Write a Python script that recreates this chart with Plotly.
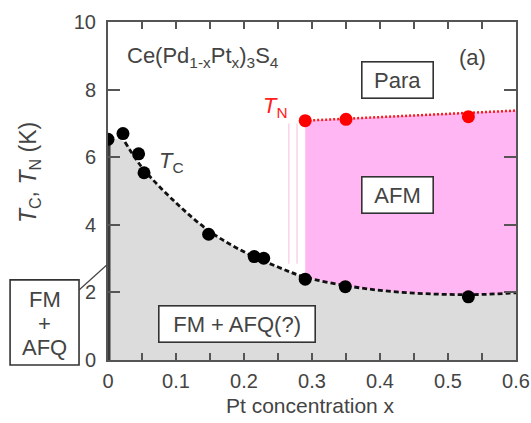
import plotly.graph_objects as go

# Tc data (black)
tc_x = [0.0, 0.022, 0.045, 0.053, 0.148, 0.215, 0.229, 0.29, 0.349, 0.53]
tc_y = [6.53, 6.70, 6.10, 5.54, 3.72, 3.06, 3.01, 2.39, 2.17, 1.87]
# TN data (red)
tn_x = [0.29, 0.35, 0.53]
tn_y = [7.08, 7.12, 7.20]
# guide curves
tc_curve_x = [0.0, 0.025, 0.05, 0.1, 0.15, 0.2, 0.25, 0.29, 0.35, 0.4, 0.45, 0.5, 0.55, 0.6]
tc_curve_y = [6.55, 6.45, 5.7, 4.65, 3.8, 3.2, 2.75, 2.45, 2.2, 2.06, 1.98, 1.94, 1.94, 1.99]
tn_line_x = [0.29, 0.6]
tn_line_y = [7.08, 7.38]
fm_bar_y = [0.0, 6.5]
boundary_x = [0.266, 0.278]
boundary_y = [2.85, 7.0]

GRAY = "#444444"
FONT = "Liberation Sans, Arial, sans-serif"

fig = go.Figure()
# gray FM region
fig.add_trace(go.Scatter(x=tc_curve_x, y=tc_curve_y, mode="lines", line=dict(width=0, shape="spline"),
                         fill="tozeroy", fillcolor="#dcdcdc", hoverinfo="skip", showlegend=False))
# pink AFM region
pk_x = [x for x in tc_curve_x if x >= 0.29]
pk_y = [y for x, y in zip(tc_curve_x, tc_curve_y) if x >= 0.29]
fig.add_trace(go.Scatter(x=pk_x, y=pk_y, mode="lines", line=dict(width=0, shape="spline"),
                         hoverinfo="skip", showlegend=False))
fig.add_trace(go.Scatter(x=tn_line_x, y=tn_line_y, mode="lines", line=dict(width=0),
                         fill="tonexty", fillcolor="#ffb6f2", hoverinfo="skip", showlegend=False))
# thin pink boundary lines
for bx in boundary_x:
    fig.add_trace(go.Scatter(x=[bx, bx], y=boundary_y, mode="lines",
                             line=dict(color="#f7c6e6", width=1.2), hoverinfo="skip", showlegend=False))
# dark FM bar at x=0
fig.add_trace(go.Scatter(x=[0, 0], y=fm_bar_y, mode="lines", line=dict(color="#3a3a3a", width=5),
                         hoverinfo="skip", showlegend=False))
# dashed Tc curve
fig.add_trace(go.Scatter(x=tc_curve_x[1:], y=tc_curve_y[1:], mode="lines",
                         line=dict(color="#111111", width=2.8, dash="5px,3px", shape="spline"),
                         showlegend=False))
# dotted TN line
fig.add_trace(go.Scatter(x=tn_line_x, y=tn_line_y, mode="lines",
                         line=dict(color="#ff1a1a", width=2.5, dash="2px,2px"), showlegend=False))
fig.add_trace(go.Scatter(x=tc_x, y=tc_y, mode="markers", marker=dict(color="black", size=13), showlegend=False))
fig.add_trace(go.Scatter(x=tn_x, y=tn_y, mode="markers", marker=dict(color="#ff0000", size=13), showlegend=False))

xt = [round(i * 0.05, 2) for i in range(13)]
xl = [("0" if v == 0 else f"{v:g}") if i % 2 == 0 else "" for i, v in enumerate(xt)]

fig.update_layout(
    width=531, height=423, autosize=False,
    margin=dict(l=108, r=15, t=22, b=63, autoexpand=False),
    paper_bgcolor="white", plot_bgcolor="white",
    font=dict(family=FONT, size=20, color=GRAY),
    xaxis=dict(range=[0, 0.6], tickvals=xt, ticktext=xl, ticks="inside", ticklen=7, tickwidth=1.6,
               tickcolor="#555", showline=True, linecolor="#555", linewidth=2, mirror="ticks",
               showgrid=False, zeroline=False, tickfont=dict(size=20, color=GRAY), ticklabelstandoff=2,
               automargin=False),
    yaxis=dict(range=[0, 10], tickvals=[0, 2, 4, 6, 8, 10], ticks="inside", ticklen=12, tickwidth=1.6,
               tickcolor="#555", showline=True, linecolor="#555", linewidth=2, mirror="ticks",
               showgrid=False, zeroline=False, tickfont=dict(size=20, color=GRAY), ticklabelstandoff=6,
               automargin=False),
)

ann = []
ann.append(dict(text="Pt concentration x", xref="paper", yref="paper", x=0.497, y=-0.135,
                xanchor="center", yanchor="middle", showarrow=False, font=dict(size=21, color=GRAY)))
ann.append(dict(text="<i>T</i><sub>C</sub>, <i>T</i><sub>N</sub> (K)", xref="paper", yref="paper",
                x=-0.192, y=0.555, xanchor="center", yanchor="middle", textangle=-90, showarrow=False,
                font=dict(size=23, color=GRAY)))
ann.append(dict(text="Ce(Pd<sub>1-x</sub>Pt<sub>x</sub>)<sub>3</sub>S<sub>4</sub>", x=0.025, y=8.95,
                xanchor="left", showarrow=False, font=dict(size=22, color=GRAY)))
ann.append(dict(text="(a)", x=0.536, y=8.95, showarrow=False, font=dict(size=22, color=GRAY)))
ann.append(dict(text="<i>T</i><sub>C</sub>", x=0.094, y=5.85, showarrow=False, font=dict(size=22, color=GRAY)))
ann.append(dict(text="<i>T</i><sub>N</sub>", x=0.247, y=7.5, showarrow=False, font=dict(size=22, color="#ff2020")))
box = dict(showarrow=False, bordercolor="#333", borderwidth=1.6, bgcolor="white", borderpad=1,
           font=dict(size=22, color=GRAY))
ann.append(dict(text="Para", x=0.425, y=8.28, width=68, height=33, **box))
ann.append(dict(text="AFM", x=0.425, y=4.88, width=68, height=33, **box))
ann.append(dict(text="FM + AFQ(?)", x=0.189, y=1.08, width=153, height=33, **box))
# left "FM + AFQ" box, lines drawn separately to keep tight spacing
for txt, yy in zip(["FM", "+", "AFQ"], [0.178, 0.109, 0.038]):
    ann.append(dict(text=txt, xref="paper", yref="paper", x=-0.1555, y=yy, xanchor="center",
                    yanchor="middle", showarrow=False, font=dict(size=22, color=GRAY)))
fig.update_layout(annotations=ann)
fig.add_shape(type="rect", xref="paper", yref="paper", x0=-0.240, y0=-0.015, x1=-0.071, y1=0.237,
              line=dict(color="#333", width=1.6), fillcolor="rgba(0,0,0,0)")
fig.add_shape(type="line", xref="paper", yref="paper", x0=-0.071, y0=0.207, x1=-0.003, y1=0.281,
              line=dict(color="#444", width=1.2))

fig.write_html("out.html", config={"displayModeBar": False, "responsive": False},
               post_script="document.body.style.margin='0';document.body.style.overflow='hidden';")
